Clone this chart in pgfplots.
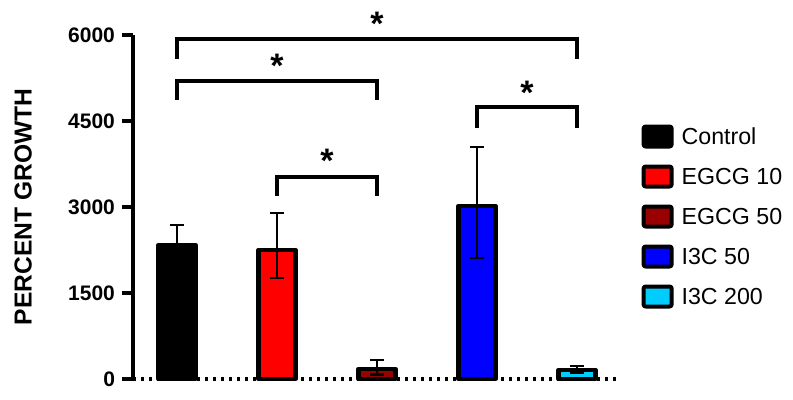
\documentclass[border=0pt]{standalone}
\usepackage{fontspec}
\setmainfont{Liberation Sans}
\usepackage{pgfplots}
\pgfplotsset{compat=1.18}

\definecolor{egcgten}{RGB}{255,0,0}
\definecolor{egcgfifty}{RGB}{153,0,0}
\definecolor{icblue}{RGB}{0,0,255}
\definecolor{iccyan}{RGB}{0,204,255}

\begin{document}
\begin{tikzpicture}
\useasboundingbox (-66.5pt,-10.5pt) rectangle (330pt,189.5pt);
\begin{axis}[
  at={(0,0)}, anchor=south west,
  scale only axis, width=242pt, height=172pt,
  xmin=-0.44, xmax=4.4, ymin=0, ymax=6000,
  clip=false,
  axis x line=none, axis y line=left,
  y axis line style={line width=1.7pt, -},
  ytick={0,1500,3000,4500,6000},
  ytick style={line width=1.7pt, black},
  major tick length=5.5pt,
  tick align=outside,
  yticklabel style={font=\bfseries\fontsize{10.5}{12}\selectfont},
  /pgf/number format/assume math mode=true,
  /pgf/number format/1000 sep={},
  ylabel={\bfseries PERCENT GROWTH},
  ylabel style={font=\fontsize{12.3}{14}\selectfont, at={(axis description cs:-0.227,0.5)}, anchor=center},
  legend style={draw=none, fill=none, at={(axis description cs:1.05,0.741)}, anchor=north west,
    font=\fontsize{11.6}{13}\selectfont, row sep=8pt, column sep=4pt, inner sep=0pt,
    nodes={inner sep=0pt, text height=8.3pt, text depth=0pt}},
  legend cell align=left,
  /pgfplots/ybar legend/.style={legend image code/.code={%
    \draw[##1, line width=2pt, rounded corners=1pt] (0pt,-5.3pt) rectangle (14pt,4.7pt);}},
  ybar, bar width=0.37, bar shift=0pt,
  every axis plot/.append style={draw=black, line width=2.2pt, line join=round},
  error bars/y dir=both, error bars/y explicit,
  error bars/error bar style={line width=1.4pt, black},
  error bars/error mark options={rotate=90, mark size=3.3pt, line width=1.4pt, black},
]
\addplot[fill=black] coordinates {(0,2337) += (0,349) -= (0,349)};
\addlegendentry{Control}
\addplot[fill=egcgten] coordinates {(1,2250) += (0,645) -= (0,489)};
\addlegendentry{EGCG 10}
\addplot[fill=egcgfifty] coordinates {(2,175) += (0,156) -= (0,100)};
\addlegendentry{EGCG 50}
\addplot[fill=icblue] coordinates {(3,3017) += (0,1030) -= (0,907)};
\addlegendentry{I3C 50}
\addplot[fill=iccyan] coordinates {(4,157) += (0,70) -= (0,50)};
\addlegendentry{I3C 200}

% dotted baseline
\draw[line width=1.6pt, dash pattern=on 1.6pt off 2.4pt] (axis cs:-0.44,0) -- (axis cs:4.4,0);

% significance brackets
\draw[line width=1.7pt] (axis cs:0,5580) -- (axis cs:0,5930) -- (axis cs:4,5930) -- (axis cs:4,5580);
\draw[line width=1.7pt] (axis cs:0,4866) -- (axis cs:0,5197) -- (axis cs:2,5197) -- (axis cs:2,4866);
\draw[line width=1.7pt] (axis cs:1,3192) -- (axis cs:1,3523) -- (axis cs:2,3523) -- (axis cs:2,3192);
\draw[line width=1.7pt] (axis cs:3,4377) -- (axis cs:3,4744) -- (axis cs:4,4744) -- (axis cs:4,4377);
\tikzset{star/.style={font=\bfseries\fontsize{17}{17}\selectfont, anchor=base, inner sep=0pt, yshift=-8.5pt}}
\node[star] at (axis cs:2,6296) {*};
\node[star] at (axis cs:1,5564) {*};
\node[star] at (axis cs:1.5,3907) {*};
\node[star] at (axis cs:3.5,5093) {*};
\end{axis}
\end{tikzpicture}
\end{document}
